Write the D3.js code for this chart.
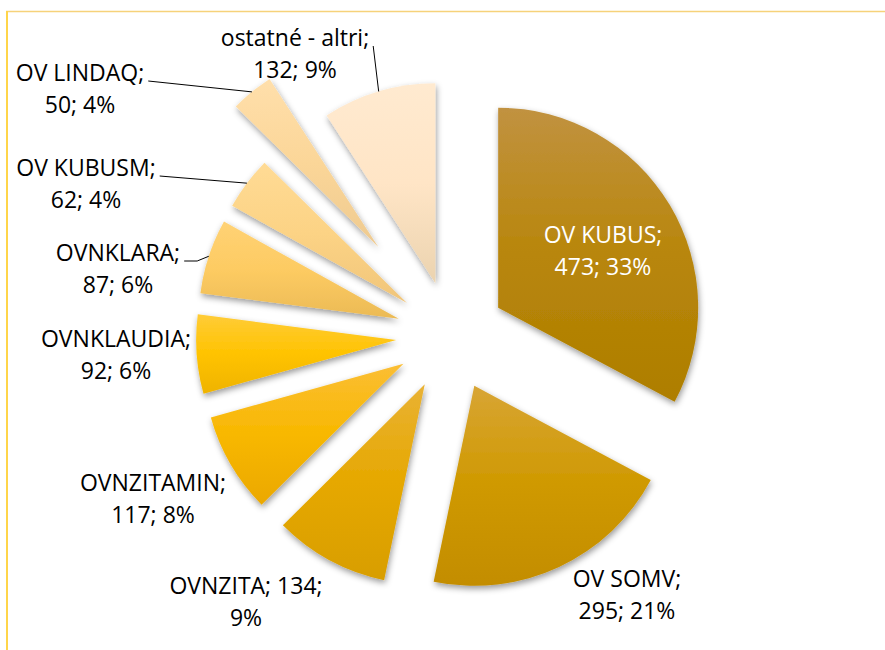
<!DOCTYPE html>
<html>
<head>
<meta charset="utf-8">
<script src="https://cdn.jsdelivr.net/npm/d3@7"></script>
<style>
  html, body { margin: 0; padding: 0; background: #fff; }
  svg { display: block; }
  text { font-family: "Open Sans", "Noto Sans", sans-serif; }
</style>
</head>
<body>
<svg id="chart" width="885" height="650"></svg>
<script>
// ---- data ----
const categories = ["OV KUBUS", "OV SOMV", "OVNZITA", "OVNZITAMIN", "OVNKLAUDIA", "OVNKLARA", "OV KUBUSM", "OV LINDAQ", "ostatné - altri"];
const values = [473, 295, 134, 117, 92, 87, 62, 50, 132];
const percentLabels = ["33%", "21%", "9%", "8%", "6%", "6%", "4%", "4%", "9%"];

// ---- style / layout ----
const gradientStops = [
  ["#C19240", "#B8860B", "#AE7E00"],
  ["#D8A535", "#CF9900", "#C38D00"],
  ["#E9B235", "#E6A800", "#D89E00"],
  ["#FBBE35", "#F8B800", "#EBA800"],
  ["#FFCC38", "#FFC300", "#EFB300"],
  ["#FFD275", "#FDCB62", "#EBBA55"],
  ["#FFDB95", "#FCD385", "#F0C57A"],
  ["#FFDFAB", "#FBD698", "#EECA90"],
  ["#FFEAD0", "#FFE5C6", "#EBD3AF"]
];
const cx = 451, cy = 336, radius = 200;
const explodeBase = 55;
const explodeExtra = {"OV LINDAQ": 60};
// label anchor (center x, first baseline), split = number of tokens on line 1
const labelLayout = [
  {x: 603, y: 243, split: 1, color: "#fff", leader: false},
  {x: 627, y: 587, split: 1, color: "#000", leader: false},
  {x: 246, y: 594, split: 2, color: "#000", leader: false},
  {x: 153, y: 491, split: 1, color: "#000", leader: false},
  {x: 116, y: 347, split: 1, color: "#000", leader: false},
  {x: 118, y: 261, split: 1, color: "#000", leader: true, elbow: 13},
  {x: 86,  y: 176, split: 1, color: "#000", leader: true, elbow: 0},
  {x: 80,  y: 81,  split: 1, color: "#000", leader: true, elbow: 0},
  {x: 295, y: 46,  split: 1, color: "#000", leader: true, elbow: 0}
];
const lineHeight = 32;
const fontSize = 23;

const svg = d3.select("#chart");
const defs = svg.append("defs");

const filter = defs.append("filter").attr("id", "shadow")
  .attr("x", "-20%").attr("y", "-20%").attr("width", "140%").attr("height", "140%");
filter.append("feDropShadow").attr("dx", 1).attr("dy", 3).attr("stdDeviation", 3)
  .attr("flood-color", "#000").attr("flood-opacity", 0.4);

categories.forEach((c, i) => {
  const g = defs.append("linearGradient").attr("id", "grad" + i)
    .attr("x1", 0).attr("y1", 0).attr("x2", 0).attr("y2", 1);
  g.append("stop").attr("offset", "0%").attr("stop-color", gradientStops[i][0]);
  g.append("stop").attr("offset", "50%").attr("stop-color", gradientStops[i][1]);
  g.append("stop").attr("offset", "100%").attr("stop-color", gradientStops[i][2]);
});

// frame (top and left edges visible)
svg.append("line").attr("x1", 6).attr("x2", 885).attr("y1", 11.5).attr("y2", 11.5)
  .attr("stroke", "#F6D27A").attr("stroke-width", 1.3);
svg.append("line").attr("x1", 7).attr("x2", 7).attr("y1", 11).attr("y2", 650)
  .attr("stroke", "#FFD54A").attr("stroke-width", 2);

const data = categories.map((c, i) => ({cat: c, value: values[i], pct: percentLabels[i], i}));
const pie = d3.pie().sort(null).value(d => d.value).startAngle(0).endAngle(2 * Math.PI);
const arcs = pie(data);
const arc = d3.arc().innerRadius(0).outerRadius(radius);

function offsetOf(a) {
  const mid = (a.startAngle + a.endAngle) / 2;
  const d = explodeBase + (explodeExtra[a.data.cat] || 0);
  return [d * Math.sin(mid), -d * Math.cos(mid)];
}

const slices = svg.append("g").attr("transform", `translate(${cx},${cy})`);
slices.selectAll("path").data(arcs).join("path")
  .attr("transform", a => { const o = offsetOf(a); return `translate(${o[0]},${o[1]})`; })
  .attr("d", arc)
  .attr("fill", a => `url(#grad${a.data.i})`)
  .attr("filter", "url(#shadow)");

// labels
const labels = svg.append("g").attr("font-size", fontSize);
arcs.forEach(a => {
  const L = labelLayout[a.data.i];
  const tokens = [a.data.cat + ";", a.data.value + ";", a.data.pct];
  const l1 = tokens.slice(0, L.split).join(" ");
  const l2 = tokens.slice(L.split).join(" ");
  const t = labels.append("text").attr("text-anchor", "middle").attr("fill", L.color);
  const t1 = t.append("tspan").attr("x", L.x).attr("y", L.y).text(l1);
  t.append("tspan").attr("x", L.x).attr("y", L.y + lineHeight).text(l2);
  if (L.leader) {
    const w = t1.node().getComputedTextLength();
    const sx = L.x + w / 2 + 4, sy = L.y;
    const o = offsetOf(a);
    const mid = (a.startAngle + a.endAngle) / 2;
    const ex = cx + o[0] + radius * Math.sin(mid);
    const ey = cy + o[1] - radius * Math.cos(mid);
    const pts = [[sx, sy]];
    if (L.elbow) pts.push([sx + L.elbow, sy]);
    pts.push([ex, ey]);
    svg.append("path").attr("d", d3.line()(pts))
      .attr("fill", "none").attr("stroke", "#000").attr("stroke-width", 1);
  }
});
</script>
</body>
</html>
